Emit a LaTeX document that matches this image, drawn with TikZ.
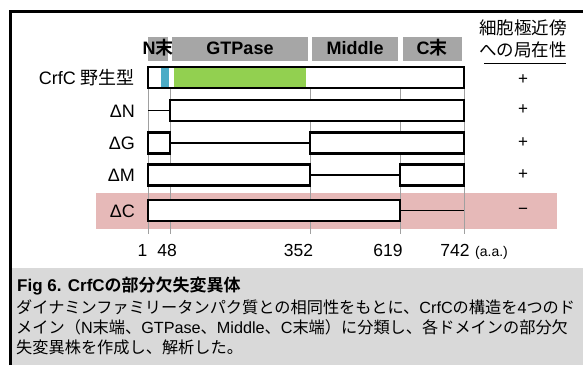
\documentclass[tikz,border=0pt]{standalone}
\usepackage{fontspec}
\setmainfont{Liberation Sans}
\newfontfamily\jp[BoldFont={Noto Sans CJK JP Bold}]{Noto Sans CJK JP}
\definecolor{hdr}{HTML}{A6A6A6}
\definecolor{wtblue}{HTML}{4BACC6}
\definecolor{wtgreen}{HTML}{92D050}
\definecolor{pinkband}{HTML}{E6B9B8}
\definecolor{capbg}{HTML}{D9D9D9}
\definecolor{gridc}{HTML}{A0A0A0}
\tikzset{
  lbl/.style={anchor=base east, font=\fontsize{18}{20}\selectfont, inner sep=0pt},
  hdrbar/.style={fill=hdr, minimum height=24pt, inner sep=0pt, outer sep=0pt, anchor=west},
  hdrtxt/.style={anchor=base, font=\bfseries\fontsize{18}{20}\selectfont, inner sep=0pt},
  dom/.style={draw=black, line width=2.5pt, fill=white, minimum height=21pt, inner sep=0pt, outer sep=0pt, anchor=west},
  fillseg/.style={minimum height=18.5pt, inner sep=0pt, outer sep=0pt, anchor=west},
  conn/.style={line width=1.5pt},
  gridl/.style={draw=gridc, line width=0.8pt},
  num/.style={anchor=base, font=\fontsize{17.5}{20}\selectfont, inner sep=0pt},
  plusmark/.style={anchor=base, font=\fontsize{17}{20}\selectfont, inner sep=0pt},
  rhead/.style={anchor=base, font=\jp\fontsize{17.5}{20}\selectfont, inner sep=0pt},
  capline/.style={anchor=base west, font=\fontsize{16.2}{20}\selectfont, inner sep=0pt},
}
\begin{document}
\begin{tikzpicture}[x=1pt,y=-1pt]
\useasboundingbox (0,0) rectangle (583,365);
% caption background
\fill[capbg] (12,268) rectangle (583,365);
% pink band
\fill[pinkband] (96,193) rectangle (557,229);
% grid lines
\foreach \gx in {148,170,310,400,464} \draw[gridl] (\gx,88) -- (\gx,234);
% header bars
\node[hdrbar, minimum width=20pt] (hN) at (148,49) {};
\node[hdrbar, minimum width=136pt] (hG) at (172,49) {};
\node[hdrbar, minimum width=86pt] (hM) at (312,49) {};
\node[hdrbar, minimum width=59pt] (hC) at (403,49) {};
\node[hdrtxt] (tN) at (158,54.5) {N{\jp\bfseries 末}};
\node[hdrtxt] (tG) at (240,54.5) {GTPase};
\node[hdrtxt] (tM) at (355,54.5) {Middle};
\node[hdrtxt] (tC) at (432,54.5) {C{\jp\bfseries 末}};
% right header
\node[rhead] (r1) at (523,34.5) {細胞極近傍};
\node[rhead] (r2) at (523,56) {への局在性};
\draw[line width=1pt] (484,63) -- (566,63);
% row labels
\node[lbl] (lWT) at (135,84) {CrfC {\jp 野生型}};
\node[lbl] (lN) at (135,117) {ΔN};
\node[lbl] (lG) at (135,149.5) {ΔG};
\node[lbl] (lM) at (135,181.5) {ΔM};
\node[lbl] (lC) at (135,217) {ΔC};
% wild type
\node[dom, minimum width=316pt] (wt) at (148,77.5) {};
\node[fillseg, fill=wtblue, minimum width=8pt] (wtb) at (160.5,77.5) {};
\node[fillseg, fill=wtgreen, minimum width=132pt] (wtg) at (174,77.5) {};
% Delta N
\coordinate (n0) at (148,110.5);
\node[dom, minimum width=294pt] (nb) at (170,110.5) {};
\draw[conn] (n0) -- (nb.west);
% Delta G
\node[dom, minimum width=22pt] (g1) at (148,143) {};
\node[dom, minimum width=154pt] (g2) at (310,143) {};
\draw[conn] (g1.east) -- (g2.west);
% Delta M
\node[dom, minimum width=162pt] (m1) at (148,175) {};
\node[dom, minimum width=64pt] (m2) at (400,175) {};
\draw[conn] (m1.east) -- (m2.west);
% Delta C
\node[dom, minimum width=252pt] (c1) at (148,210.5) {};
\coordinate (c9) at (464,210.5);
\draw[conn] (c1.east) -- (c9);
% localisation marks
\node[plusmark] (pWT) at (523,84) {+};
\node[plusmark] (pN) at (523,114) {+};
\node[plusmark] (pG) at (523,147.5) {+};
\node[plusmark] (pM) at (523,179) {+};
\node[plusmark] (pC) at (523,214) {−};
% scale numbers
\node[num] (s1) at (142.5,256.5) {1};
\node[num] (s48) at (167,256.5) {48};
\node[num] (s352) at (298.5,256.5) {352};
\node[num] (s619) at (388,256.5) {619};
\node[num] (s742) at (455,256.5) {742};
\node[anchor=base west, inner sep=0pt, font=\fontsize{14}{16}\selectfont] (saa) at (475,256.5) {(a.a.)};
% caption
\node[capline, font=\bfseries\fontsize{17}{20}\selectfont] (ct) at (17,291.5) {Fig 6. CrfC{\jp\bfseries の部分欠失変異体}};
\node[capline] (c1l) at (16,313) {{\jp ダイナミンファミリータンパク質との相同性をもとに、}CrfC{\jp の構造を}4{\jp つのド}};
\node[capline] (c2l) at (16,333) {{\jp メイン（}N{\jp 末端、}GTPase{\jp 、}Middle{\jp 、}C{\jp 末端）に分類し、各ドメインの部分欠}};
\node[capline] (c3l) at (16,353) {{\jp 失変異株を作成し、解析した。}};
% frame
\draw[line width=3.5pt] (10.5,365) -- (10.5,11.5) -- (583,11.5);
\end{tikzpicture}
\end{document}
